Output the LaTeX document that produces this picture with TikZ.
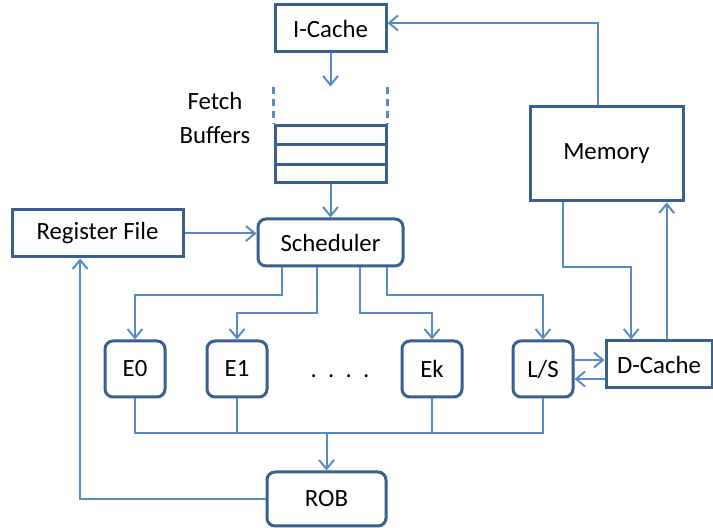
\documentclass[tikz,border=0pt]{standalone}
\usepackage{fontspec}
\setmainfont{Carlito}
\usetikzlibrary{arrows.meta,positioning,calc}
\definecolor{boxblue}{HTML}{3B6090}
\definecolor{lineblue}{HTML}{5A8AC6}

\begin{document}
\begin{tikzpicture}[
    x=0.5pt, y=-0.5pt,
    font=\fontsize{12.4}{17}\selectfont,
    box/.style={rectangle, draw=boxblue, line width=1.5pt, fill=white,
                inner sep=0pt, align=center},
    rbox/.style={box, rounded corners=4pt},
    unit/.style={rbox, minimum width=30pt, minimum height=28pt},
    line/.style={draw=lineblue, line width=1pt},
    arr/.style={line, -{Straight Barb[length=4.5pt,width=7.5pt]}}
  ]
  \useasboundingbox (0,0) rectangle (713,528);

  % front end
  \node[box, minimum width=55.5pt, minimum height=23.5pt] (icache) at (330.5,28.5) {I-Cache};
  \node[box, minimum width=55.5pt, minimum height=28.5pt] (fetch) at (330.5,154.5) {};
  \draw[boxblue, line width=1.5pt]
    ($(fetch.north west)!1/3!(fetch.south west)$) -- ($(fetch.north east)!1/3!(fetch.south east)$)
    ($(fetch.north west)!2/3!(fetch.south west)$) -- ($(fetch.north east)!2/3!(fetch.south east)$);
  \draw[lineblue, line width=1.2pt, dash pattern=on 3.5pt off 2.5pt]
    ($(fetch.north west)+(0,-37)$) -- (fetch.north west)
    ($(fetch.north east)+(0,-37)$) -- (fetch.north east);
  \node[align=center] (fetchlbl) at (215,118) {Fetch\\Buffers};
  \coordinate (fin) at ($(fetch.north)+(0,-38)$);
  \draw[arr] (icache.south) -- (fin);

  \node[rbox, minimum width=72.5pt, minimum height=23.5pt] (sched) at (330.5,242.5) {Scheduler};
  \node[box, minimum width=85.5pt, minimum height=23.5pt] (regfile) at (97.5,233.5) {Register File};
  \draw[arr] (fetch.south) -- (sched.north);
  \draw[arr] (regfile.east) -- (sched.west |- regfile.east);

  % execution units
  \node[unit] (e0) at (135,369) {E0};
  \node[unit] (e1) at (237,369) {E1};
  \node[unit] (ek) at (432,369) {Ek};
  \node[unit] (ls) at (543,369) {L/S};
  \node (dots) at (340,376) {.\ \ .\ \ .\ \ .};

  \draw[arr] ($(sched.south west)!0.17!(sched.south east)$) -- ++(0,28) -| (e0.north);
  \draw[arr] ($(sched.south west)!0.41!(sched.south east)$) -- ++(0,46) -| (e1.north);
  \draw[arr] ($(sched.south west)!0.70!(sched.south east)$) -- ++(0,46) -| (ek.north);
  \draw[arr] ($(sched.south west)!0.88!(sched.south east)$) -- ++(0,28) -| (ls.north);

  % commit
  \node[rbox, minimum width=59.5pt, minimum height=27pt] (rob) at (326.5,499) {ROB};
  \coordinate (bus) at (326.5,433);
  \draw[line] (e0.south) |- (ls.south |- bus) -- (ls.south);
  \draw[line] (e1.south) -- (e1.south |- bus);
  \draw[line] (ek.south) -- (ek.south |- bus);
  \draw[arr] (bus) -- (rob.north);
  \draw[arr] (rob.west) -| ($(regfile.south west)!0.40!(regfile.south east)$);

  % memory side
  \node[box, minimum width=53pt, minimum height=23.5pt] (dcache) at (659,364.5) {D-Cache};
  \node[box, minimum width=76.5pt, minimum height=47pt] (memory) at (606.5,154) {Memory};

  \coordinate (lsout) at ($(ls.east)+(0,-9)$);
  \coordinate (lsin) at ($(ls.east)+(0,10)$);
  \draw[arr] (lsout) -- (lsout -| dcache.west);
  \draw[arr] (lsin -| dcache.west) -- (lsin);

  \draw[arr] ($(memory.north west)!0.444!(memory.north east)$) |- ([yshift=2.75pt]icache.east);
  \draw[arr] ($(memory.south west)!0.22!(memory.south east)$) -- ++(0,65)
    -| ($(dcache.north west)!0.245!(dcache.north east)$);
  \coordinate (dcup) at ($(dcache.north west)!0.57!(dcache.north east)$);
  \draw[arr] (dcup) -- (dcup |- memory.south);
\end{tikzpicture}
\end{document}
